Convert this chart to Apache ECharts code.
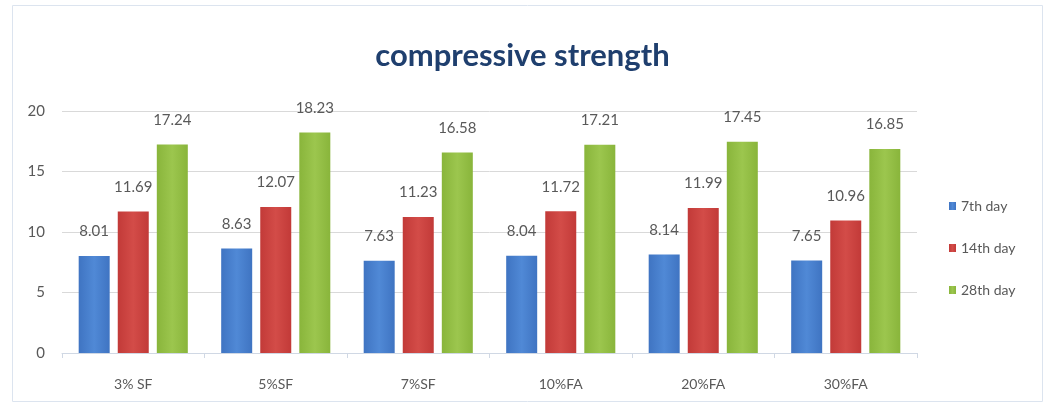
<!DOCTYPE html>
<html>
<head>
<meta charset="utf-8">
<script src="https://cdn.jsdelivr.net/npm/echarts@6/dist/echarts.min.js"></script>
<style>
html,body{margin:0;padding:0;background:#fff;}
#chart{width:1045px;height:414px;}
</style>
</head>
<body>
<div id="chart"></div>
<script>
var categories = ['3% SF', '5%SF', '7%SF', '10%FA', '20%FA', '30%FA'];
var day7 = [8.01, 8.63, 7.63, 8.04, 8.14, 7.65];
var day14 = [11.69, 12.07, 11.23, 11.72, 11.99, 10.96];
var day28 = [17.24, 18.23, 16.58, 17.21, 17.45, 16.85];
var seriesNames = ['7th day', '14th day', '28th day'];
var yTicks = {min: 0, max: 20, interval: 5};

var colors = ['#4A7FCB', '#CC4340', '#93BE45'];
var font = 'Lato, "Open Sans", sans-serif';

function grad(c1, c2) {
  return new echarts.graphic.LinearGradient(0, 0, 1, 0, [
    {offset: 0, color: c1}, {offset: 0.5, color: c2}, {offset: 1, color: c1}
  ]);
}

var chart = echarts.init(document.getElementById('chart'));
var labelCfg = {
  show: true, position: 'top', distance: 17,
  color: '#595959', fontSize: 15, fontFamily: font
};
function mk(name, data, g) {
  return {
    name: name, type: 'bar', data: data, barWidth: 31, barGap: '26%',
    itemStyle: {color: g},
    label: labelCfg
  };
}
chart.setOption({
  animation: false,
  title: {
    text: 'compressive strength', left: 'center', top: 35,
    textStyle: {fontFamily: font, fontWeight: 'bold', fontSize: 31, color: '#1F3F6E'}
  },
  color: colors,
  grid: {left: 62, right: 128, top: 111, bottom: 61},
  legend: {
    orient: 'vertical', left: 944, top: 194, itemGap: 28,
    itemWidth: 7, itemHeight: 8, icon: 'rect',
    textStyle: {color: '#595959', fontSize: 14, fontFamily: font},
    data: seriesNames
  },
  xAxis: {
    type: 'category', data: categories,
    axisLine: {lineStyle: {color: '#D0D8E4'}},
    axisTick: {show: true, lineStyle: {color: '#D0D8E4'}},
    axisLabel: {color: '#595959', fontSize: 14, margin: 24, fontFamily: font}
  },
  yAxis: {
    type: 'value', min: yTicks.min, max: yTicks.max, interval: yTicks.interval,
    axisLine: {show: false}, axisTick: {show: false},
    axisLabel: {color: '#595959', fontSize: 15, margin: 17, fontFamily: font},
    splitLine: {lineStyle: {color: '#D9D9D9'}}
  },
  graphic: [{
    type: 'rect', shape: {x: 12.5, y: 5.5, width: 1030, height: 396},
    style: {fill: 'none', stroke: '#DCE4EF', lineWidth: 1}, z: -1
  }],
  series: [
    mk(seriesNames[0], day7, grad('#3F74C2', '#5089D6')),
    mk(seriesNames[1], day14, grad('#C23A38', '#D34C48')),
    mk(seriesNames[2], day28, grad('#89B53B', '#9CC64E'))
  ]
});
</script>
</body>
</html>
